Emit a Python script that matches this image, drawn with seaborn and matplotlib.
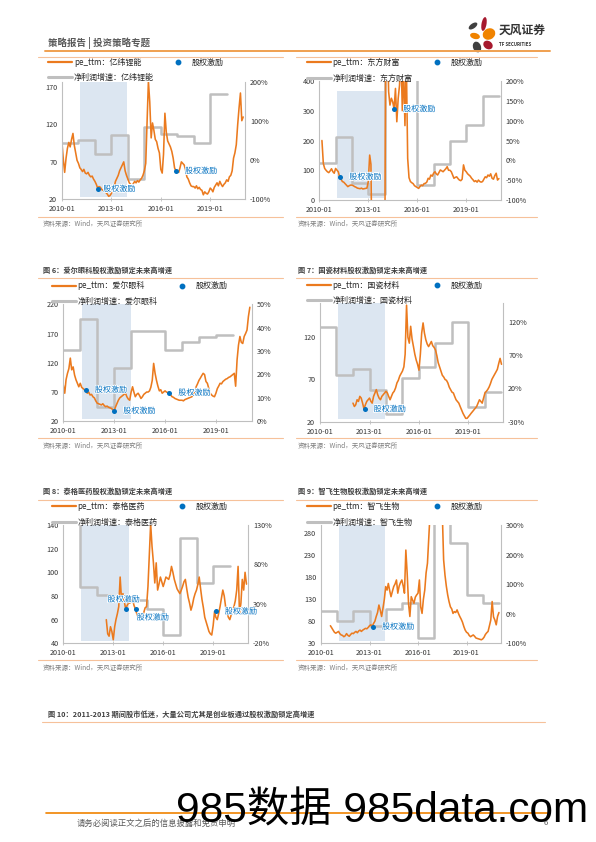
import matplotlib
matplotlib.use('Agg')
import matplotlib.pyplot as plt
import matplotlib.dates as mdates
import matplotlib.patheffects as pe
from matplotlib.lines import Line2D
from matplotlib.patches import Ellipse
import numpy as np
import pandas as pd
import seaborn as sns

# ---- data (monthly pe_ttm from 2010-01 to 2021-01, yearly profit growth in %) ----
months = pd.date_range('2010-01-01', '2021-01-01', freq='MS')
nan = np.nan

pe_yiwei = (
    [95, 72, 56, 75, 88, 96, 90, 100, 108, 92, 82, 72] +
    [68, 62, 60, 57, 60, 55, 54, 56, 52, 50, 51, 47] +
    [44, 40, 35, 37, 36, 33, 32, 30, 29, 27, 24, 25] +
    [28, 32, 36, 44, 48, 52, 58, 62, 66, 70, 58, 52] +
    [47, 42, 40, 38, 41, 44, 42, 45, 43, 46, 48, 52] +
    [58, 68, 120, 178, 150, 102, 122, 112, 100, 97, 88, 82] +
    [60, 55, 80, 135, 110, 98, 94, 90, 84, 75, 62, 58] +
    [58, 56, 62, 70, 68, 66, 60, 50, 47, 42, 38, 37] +
    [37, 35, 38, 34, 36, 33, 32, 26, 30, 28, 27, 30] +
    [35, 33, 30, 36, 39, 42, 38, 44, 40, 37, 40, 42] +
    [46, 44, 50, 52, 58, 75, 82, 93, 120, 142, 162, 125] +
    [130]
)
growth_yiwei = [43, 52, 15, 65, -48, 84, 68, 62, 43, 169]
inc_dates_yiwei = ['2012-03-01', '2016-12-01']
inc_pe_yiwei = [34, 58]

pe_dfcf = (
    [nan, nan, 200, 123, 106, 100, 95, 92, 98, 105, 95, 90] +
    [106, 100, 95, 78, 70, 62, 60, 55, 50, 45, 48, 50] +
    [50, 48, 45, 43, 40, 39, 38, 40, 37, 38, 39, 40] +
    [62, 151, 120, -300, -300, -300, -300, -300, -300, -300, -300, -300] +
    [-300, 700, 600, 364, 319, 342, 330, 306, 375, 263, 342, 386] +
    [500, 300, 450, 250, 480, 140, 75, 62, 58, 55, 48, 45] +
    [42, 39, 45, 50, 48, 55, 56, 60, 73, 70, 84, 80] +
    [90, 95, 88, 84, 92, 101, 98, 95, 100, 105, 112, 100] +
    [100, 95, 85, 73, 76, 78, 72, 67, 65, 70, 118, 100] +
    [95, 88, 84, 80, 73, 68, 62, 65, 60, 67, 62, 60] +
    [62, 70, 78, 75, 84, 80, 88, 73, 70, 82, 90, 67] +
    [72]
)
growth_dfcf = [-6, 60, -57, -85, 1000, 1000, -61, -10, 50, 90, 162]
inc_dates_dfcf = ['2011-04-15', '2014-08-01']
inc_pe_dfcf = [78, 306]

pe_aier = (
    [82, 68, 91, 102, 110, 128, 108, 113, 99, 91, 85, 79] +
    [85, 78, 76, 74, 72, 68, 70, 65, 66, 62, 60, 55] +
    [51, 50, 49, 48, 50, 47, 45, 46, 44, 43, 42, 40] +
    [38, 45, 50, 56, 60, 62, 64, 66, 68, 62, 58, 56] +
    [70, 79, 70, 62, 66, 68, 64, 59, 62, 66, 68, 70] +
    [70, 72, 78, 90, 119, 102, 90, 80, 72, 74, 68, 70] +
    [72, 70, 69, 70, 65, 62, 61, 59, 58, 57, 56, 56] +
    [56, 55, 57, 58, 59, 60, 61, 62, 66, 72, 79, 84] +
    [90, 94, 98, 102, 100, 88, 85, 76, 68, 65, 63, 62] +
    [68, 76, 80, 85, 84, 88, 90, 92, 93, 95, 96, 98] +
    [100, 102, 80, 125, 150, 165, 155, 153, 165, 170, 176, 199] +
    [215]
)
growth_aier = [30.5, 43.6, 6.3, 22.7, 38.8, 38.8, 30.5, 34.1, 36.2, 37.0]
inc_dates_aier = ['2011-05-01', '2013-01-01', '2016-04-01']
inc_pe_aier = [74, 38, 69]

pe_guoci = (
    [nan] * 24 +
    [42, 38, 40, 46, 44, 50, 48, 42, 35, 40, 44, 46] +
    [48, 44, 42, 50, 54, 58, 52, 48, 46, 50, 52, 54] +
    [56, 54, 50, 46, 50, 54, 56, 60, 66, 69, 74, 77] +
    [80, 85, 100, 158, 120, 113, 133, 118, 109, 100, 93, 88] +
    [81, 100, 125, 137, 125, 117, 112, 109, 112, 115, 110, 108] +
    [105, 98, 90, 85, 80, 75, 73, 70, 69, 66, 61, 58] +
    [55, 54, 50, 46, 44, 42, 38, 34, 30, 27, 24, 24] +
    [26, 28, 30, 32, 34, 36, 38, 42, 46, 44, 42, 48] +
    [54, 56, 58, 61, 65, 70, 73, 76, 79, 82, 89, 95] +
    [88]
)
growth_guoci = [112.5, 40, 49, 17.5, -18.5, 35, 51.5, 87.5, 120, -7.5, 14]
inc_dates_guoci = ['2012-09-15']
inc_pe_guoci = [35]

pe_taige = (
    [nan] * 24 +
    [nan] * 7 + [60, 48, 46, 54, 50] +
    [43, 54, 60, 65, 71, 96, 77, 82, 75, 69, 72, 74] +
    [74, 76, 77, 72, 69, 65, 62, 61, 60, 63, 66, 70] +
    [71, 88, 113, 141, 122, 108, 91, 108, 85, 90, 96, 92] +
    [88, 92, 96, 95, 94, 98, 105, 100, 94, 90, 86, 84] +
    [82, 85, 88, 92, 94, 86, 79, 74, 68, 72, 78, 82] +
    [85, 90, 96, 86, 77, 70, 62, 58, 54, 50, 48, 47] +
    [55, 67, 62, 60, 65, 71, 78, 85, 80, 71, 66, 62] +
    [60, 64, 68, 71, 76, 85, 105, 65, 74, 94, 85, 100] +
    [90]
)
growth_taige = [200, 51, 41, 38, 35, 24, -9.4, 113, 57, 78]
inc_dates_taige = ['2013-10-15', '2014-05-15', '2019-03-01']
inc_pe_taige = [69, 69, 67]

pe_zhifei = (
    [nan] * 7 + [70, 65, 60, 55, 53] +
    [55, 57, 52, 49, 48, 45, 47, 52, 48, 46, 50, 53] +
    [52, 55, 57, 54, 58, 60, 57, 60, 62, 64, 63, 66] +
    [70, 72, 68, 75, 80, 91, 100, 117, 105, 91, 110, 130] +
    [159, 151, 166, 150, 136, 148, 159, 165, 174, 144, 160, 168] +
    [174, 160, 144, 242, 189, 120, 91, 136, 128, 121, 135, 140] +
    [144, 174, 113, 98, 130, 151, 190, 212, 272, 330, 400, 450] +
    [500, 600, 650, 600, 550, 450, 330, 220, 185, 160, 140, 125] +
    [113, 108, 98, 102, 100, 106, 98, 91, 85, 78, 68, 60] +
    [55, 53, 48, 45, 47, 49, 46, 42, 41, 40, 39, 38] +
    [40, 44, 50, 54, 57, 70, 83, 125, 90, 83, 72, 91] +
    [100]
)
growth_zhifei = [10.4, -24.5, 10.4, -40, 15, 35, -83, 450, 238, 63, 37.5]
inc_dates_zhifei = ['2013-03-20']
inc_pe_zhifei = [68]

shade_start, shade_end = '2011-02-01', '2013-12-20'

# ---- style ----
sns.set_theme(style='white')
plt.rcParams['font.family'] = ['Noto Sans CJK SC', 'DejaVu Sans']
plt.rcParams['axes.unicode_minus'] = False

ORANGE = '#EB7A1E'
GRAY = '#BFBFBF'
BLUE = '#0070C0'
SHADE = '#DCE6F1'
RULE = '#F6C19A'
TXT = '#333333'

W, H = 596, 842
fig = plt.figure(figsize=(W / 100, H / 100), dpi=100)


def fx(x):
    return x / W


def fy(y):
    return 1 - y / H


def hline(x0, x1, y, color=RULE, lw=0.8):
    fig.add_artist(Line2D([fx(x0), fx(x1)], [fy(y), fy(y)], transform=fig.transFigure,
                          color=color, lw=lw))


def panel(box, name, pe_vals, growth, inc_dates, inc_pe, offsets,
          left_lim, left_ticks, right_lim, right_ticks, shade_top, leg_xy):
    x0, y0, x1, y1 = box
    ax1 = fig.add_axes([fx(x0), fy(y1), (x1 - x0) / W, (y1 - y0) / H])
    ax2 = ax1.twinx()
    ax1.set_zorder(ax2.get_zorder() + 1)
    ax1.patch.set_visible(False)

    ax2.axvspan(pd.Timestamp(shade_start), pd.Timestamp(shade_end), ymin=0.02, ymax=shade_top,
                color=SHADE, lw=0, zorder=0)
    gdates = pd.date_range('2010-01-01', periods=len(growth) + 1, freq='YS')
    gvals = list(growth) + [growth[-1]]
    sns.lineplot(x=gdates, y=gvals, ax=ax2, color=GRAY, lw=1.8,
                 drawstyle='steps-post', estimator=None)
    sns.lineplot(x=months, y=pe_vals, ax=ax1, color=ORANGE, lw=1.15, estimator=None)
    sns.scatterplot(x=pd.to_datetime(inc_dates), y=inc_pe, ax=ax1, color=BLUE, s=13,
                    linewidth=0, zorder=5)
    for d, v, (dx, dy, ha) in zip(inc_dates, inc_pe, offsets):
        ax1.annotate('股权激励', xy=(pd.Timestamp(d), v), xytext=(dx, dy),
                     textcoords='offset points', ha=ha, va='center', color=BLUE,
                     fontsize=5.8, zorder=6,
                     path_effects=[pe.withStroke(linewidth=1.2, foreground='white')])

    ax1.set_xlim(pd.Timestamp('2010-01-01'), pd.Timestamp('2021-02-10'))
    ax1.set_ylim(*left_lim)
    ax1.set_yticks(left_ticks)
    ax2.set_ylim(*right_lim)
    ax2.set_yticks(right_ticks)
    ax2.set_yticklabels([f'{v:.0f}%' for v in right_ticks])
    ax1.set_xticks(pd.to_datetime(['2010-01-01', '2013-01-01', '2016-01-01', '2019-01-01']))
    ax1.xaxis.set_major_formatter(mdates.DateFormatter('%Y-%m'))
    for a in (ax1, ax2):
        a.set_xlabel('')
        a.set_ylabel('')
        a.grid(False)
        for s in a.spines.values():
            s.set_visible(False)
    ax1.spines['left'].set_visible(True)
    ax1.spines['bottom'].set_visible(True)
    ax2.spines['right'].set_visible(True)
    for s in (ax1.spines['left'], ax1.spines['bottom'], ax2.spines['right']):
        s.set_color(GRAY)
        s.set_linewidth(0.8)
    ax1.tick_params(axis='y', length=0, labelsize=5.2, pad=3.5, labelcolor=TXT)
    ax2.tick_params(axis='y', length=0, labelsize=5.2, pad=3.5, labelcolor=TXT)
    ax1.tick_params(axis='x', length=2.5, width=0.6, direction='inout', color=GRAY,
                    labelsize=5.2, pad=3, labelcolor=TXT, bottom=True)

    handles = [Line2D([0], [0], color=ORANGE, lw=1.6),
               Line2D([0], [0], color=GRAY, lw=2.2),
               Line2D([0], [0], marker='o', color=BLUE, ls='none', markersize=3.2)]
    labels = [f'pe_ttm：{name}', f'净利润增速：{name}', '股权激励']
    lx, ly = leg_xy
    leg = ax1.legend(handles, labels, ncol=2, loc='upper left',
                     bbox_to_anchor=(fx(lx), fy(ly - 4.5)), bbox_transform=fig.transFigure,
                     frameon=False, fontsize=5.8, handlelength=3.0, handletextpad=0.2,
                     columnspacing=1.5, labelspacing=0.8, borderpad=0, borderaxespad=0)
    for t in leg.get_texts():
        t.set_color('#262626')
    return ax1, ax2


# ---- header ----
fig.text(fx(48), fy(43), '策略报告 | 投资策略专题', fontsize=6.8, fontweight='bold',
         color='#595959', va='center', ha='left')
hline(45, 550, 51, color='#F0A050', lw=1.4)

# logo
lax = fig.add_axes([fx(462), fy(55), 38 / W, 38 / H])
lax.set_xlim(0, 38)
lax.set_ylim(0, 38)
lax.set_aspect('equal')
lax.axis('off')
petals = [((11, 29), 10, 5, 35, '#404040'),
          ((22, 31), 5, 14, -10, '#A6192E'),
          ((27, 21), 13, 11, 30, '#F08300'),
          ((13, 19), 10, 6, -15, '#F08300'),
          ((15, 8), 8, 11, 20, '#404040'),
          ((26, 10), 10, 8, -35, '#A6192E')]
for c, w, h, ang, col in petals:
    lax.add_patch(Ellipse(c, w, h, angle=ang, color=col, lw=0))
fig.text(fx(499), fy(30), '天风证券', fontsize=8.5, fontweight='bold', color='#333333',
         va='center', ha='left')
fig.text(fx(499), fy(45), 'TF SECURITIES', fontsize=3.2, fontweight='bold', color='#333333',
         va='center', ha='left')

# ---- frame rules and captions ----
for y in (57, 216.5, 278, 438, 500, 660):
    hline(38, 283, y)
    hline(296, 537, y)

for x, y, t in [(43, 270, '图 6：爱尔眼科股权激励锁定未来高增速'),
                (298, 270, '图 7：国瓷材料股权激励锁定未来高增速'),
                (43, 491, '图 8：泰格医药股权激励锁定未来高增速'),
                (298, 491, '图 9：智飞生物股权激励锁定未来高增速'),
                (48, 714, '图 10：2011-2013 期间股市低迷，大量公司尤其是创业板通过股权激励锁定高增速')]:
    fig.text(fx(x), fy(y), t, fontsize=5.2, fontweight='bold', color='#404040', va='center')
hline(42, 545, 722)

for x, y in [(43, 224), (298, 224), (43, 446), (298, 446), (43, 668), (298, 668)]:
    fig.text(fx(x), fy(y), '资料来源：Wind，天风证券研究所', fontsize=4.7, color='#7F7F7F',
             va='center')

# ---- panels ----
panel((62, 82, 245, 199.3), '亿纬锂能', pe_yiwei, growth_yiwei, inc_dates_yiwei, inc_pe_yiwei,
      [(4, 0, 'left'), (6.5, 0, 'left')],
      (20, 176.7), [20, 70, 120, 170], (-100, 200), [-100, 0, 100, 200], 1.0, (48.3, 62.3))
panel((319.3, 81, 500.7, 200), '东方财富', pe_dfcf, growth_dfcf, inc_dates_dfcf, inc_pe_dfcf,
      [(6.5, 0, 'left'), (6.5, 0, 'left')],
      (0, 400), [0, 100, 200, 300, 400], (-100, 200), [-100, -50, 0, 50, 100, 150, 200],
      0.916, (306.7, 62.3))
panel((63.3, 304.3, 251.7, 421.3), '爱尔眼科', pe_aier, growth_aier, inc_dates_aier, inc_pe_aier,
      [(6.5, 0, 'left'), (6.5, 0, 'left'), (6.5, 0, 'left')],
      (20, 220), [20, 70, 120, 170, 220], (0, 50), [0, 10, 20, 30, 40, 50], 1.0, (51.7, 285.7))
panel((320, 303, 503.3, 421.7), '国瓷材料', pe_guoci, growth_guoci, inc_dates_guoci, inc_pe_guoci,
      [(6.5, 0, 'left')],
      (20, 160.6), [20, 70, 120], (-30, 148), [-30, 20, 70, 120], 1.0, (306.7, 285))
panel((63.3, 525, 248.3, 643.3), '泰格医药', pe_taige, growth_taige, inc_dates_taige, inc_pe_taige,
      [(-2, 7, 'center'), (0.5, -6, 'left'), (6.5, 0, 'left')],
      (40, 140), [40, 60, 80, 100, 120, 140], (-20, 130), [-20, 30, 80, 130], 1.0, (51.7, 506.7))
panel((321, 525, 500.7, 643.3), '智飞生物', pe_zhifei, growth_zhifei, inc_dates_zhifei,
      inc_pe_zhifei, [(6.5, 0, 'left')],
      (30, 299), [30, 80, 130, 180, 230, 280], (-100, 300), [-100, 0, 100, 200, 300], 1.0,
      (306.7, 506.7))

# ---- footer ----
hline(46, 550, 813, color='#F08300', lw=1.2)
fig.text(fx(77), fy(823), '请务必阅读正文之后的信息披露和免责申明', fontsize=6, color='#595959',
         va='center')
fig.text(fx(548), fy(823), '6', fontsize=5.5, color='#595959', va='center', ha='right')
fig.text(fx(176), fy(811), '985数据 985data.com', fontsize=30.5, color='black', va='center',
         ha='left', family=['Liberation Sans', 'Noto Sans CJK SC'])

fig.savefig('out.png', dpi=100)
